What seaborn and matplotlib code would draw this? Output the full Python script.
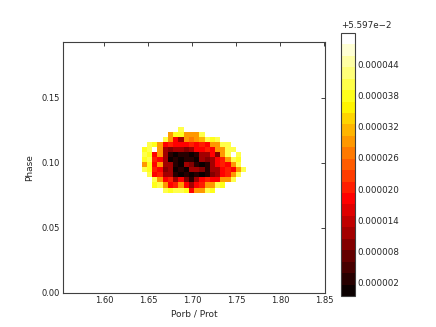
import numpy as np
import pandas as pd
import matplotlib
matplotlib.use('Agg')
from matplotlib import pyplot as plt
from matplotlib.colors import ListedColormap
import seaborn as sns

# grid of the scan (cell edges)
x_lo, x_hi = 1.5534, 1.8511
y_lo, y_hi = 0.0, 0.193
n_x, n_y = 50, 50

# values are (value - offset) in units of 1e-6, None = outside the region
offset = 0.05597
col0, row0 = 15, 20   # blob position in the grid (bottom-left cell)
N = None
blob_rows = [  # listed from top row to bottom row
  [N, N, N, N, N, N, N, 40, N, N, N, N, N, N, N, N, N, N, N, N],
  [N, N, N, N, N, 29, 39, 38, 30, 29, 30, 40, N, N, N, N, N, N, N, N],
  [N, N, N, N, 40, 29, 19, 11, 29, 28, 30, 31, 40, 39, 41, N, N, N, N, N],
  [N, 40, 39, 29, 19, 20, 19, 18, 19, 20, 19, 21, 19, 29, 30, 40, 41, N, N, N],
  [39, 40, N, 29, 11, 10, 12, 11, 10, 12, 19, 18, 20, 19, 29, 30, 40, 41, N, N],
  [40, 38, 19, 29, 11, 2, 1, 2, 3, 1, 2, 11, 12, 19, 10, 29, 40, N, 40, N],
  [39, 40, 20, 19, 12, 1, 2, 1, 2, 3, 1, 11, 10, 12, 19, 20, 30, 40, 39, N],
  [29, 39, 19, 29, 11, 12, 2, 1, 11, 10, 2, 1, 2, 11, 19, 20, 19, 29, 40, N],
  [40, 39, 20, 19, 10, 11, 1, 2, 1, 12, 11, 10, 2, 11, 12, 19, 20, 19, 30, 41],
  [N, 40, 19, 20, 11, 12, 2, 1, 2, 1, 2, 1, 3, 10, 11, 19, 20, 29, 40, N],
  [N, N, 40, 29, 19, 20, 11, 19, 10, 2, 11, 19, 20, 19, 18, 29, 30, 40, N, N],
  [N, N, 39, 40, 29, 19, 20, 29, 19, 11, 19, 20, 29, 30, 40, 39, N, N, N, N],
  [N, N, N, N, 40, 39, 40, 41, 38, 19, 29, 30, 40, 39, N, N, N, N, N, N],
]

c_lo, c_hi = -0.5, 50.0
n_levels = 23
cbar_ticks = [2, 8, 14, 20, 26, 32, 38, 44]
x_ticks = [1.60, 1.65, 1.70, 1.75, 1.80, 1.85]
y_ticks = [0.00, 0.05, 0.10, 0.15]

grid = np.full((n_y, n_x), np.nan)
for k, row in enumerate(blob_rows):
  r = row0 + len(blob_rows) - 1 - k
  for j, v in enumerate(row):
    if v is not None:
      grid[r, col0 + j] = v
df = pd.DataFrame(grid)

dx = (x_hi - x_lo) / n_x
dy = (y_hi - y_lo) / n_y

cmap = ListedColormap(plt.cm.hot(np.linspace(0, 1, n_levels)))

sns.set_style('white')
plt.rcParams['font.family'] = ['DejaVu Sans']
fig = plt.figure(figsize=(4.36, 3.27), dpi=100)
ax = fig.add_axes([0.1445, 0.104, 0.601, 0.768])
cax = fig.add_axes([0.782, 0.095, 0.032, 0.804])

sns.heatmap(df, ax=ax, cbar_ax=cax, cmap=cmap, vmin=c_lo, vmax=c_hi,
            xticklabels=False, yticklabels=False)
ax.invert_yaxis()

for s in ax.spines.values():
  s.set_visible(True)
  s.set_color('#404040')
  s.set_linewidth(0.8)

ax.set_xticks([(v - x_lo) / dx for v in x_ticks])
ax.set_xticklabels(['%.2f' % v for v in x_ticks])
ax.set_yticks([(v - y_lo) / dy for v in y_ticks])
ax.set_yticklabels(['%.2f' % v for v in y_ticks])
ax.tick_params(direction='in', length=3, width=0.6, labelsize=6,
               top=True, right=True, pad=2.5, colors='#222222')
plt.setp(ax.get_xticklabels(), rotation=0)
plt.setp(ax.get_yticklabels(), rotation=0)
ax.set_xlabel('Porb / Prot', fontsize=6.5, labelpad=3)
ax.set_ylabel('Phase', fontsize=6.5, labelpad=5)

cb = ax.collections[0].colorbar
cb.outline.set_linewidth(0.8)
cb.outline.set_edgecolor('#404040')
cb.set_ticks(cbar_ticks)
cb.set_ticklabels(['%.6f' % (v * 1e-6) for v in cbar_ticks])
cax.tick_params(direction='in', length=3, width=0.6, labelsize=6.3, pad=2)
cax.text(0.0, 1.01, '+5.597e\u22122', transform=cax.transAxes,
         ha='left', va='bottom', fontsize=6.3)

fig.savefig('out.png', dpi=100)
